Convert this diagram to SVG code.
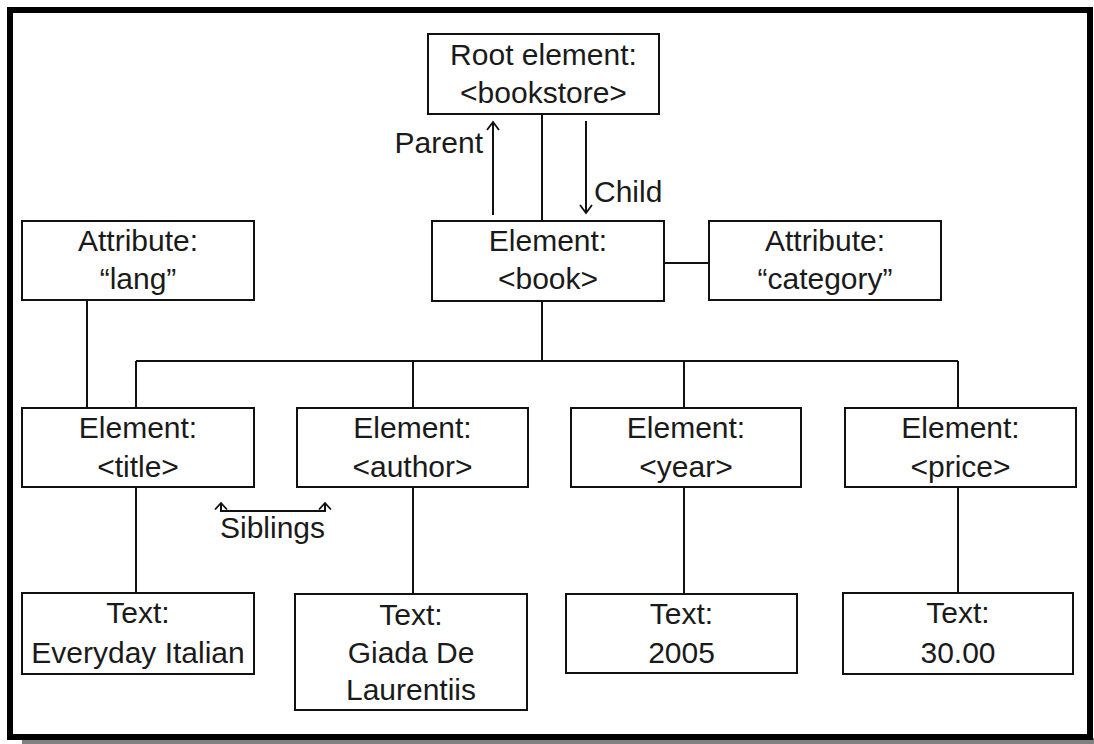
<svg xmlns="http://www.w3.org/2000/svg" width="1094" height="744" viewBox="0 0 1094 744">
  <style>
    .box { fill: #ffffff; stroke: #111111; stroke-width: 2; }
    .line { fill: none; stroke: #111111; stroke-width: 2; }
    .head { fill: none; stroke: #111111; stroke-width: 1.8; stroke-linejoin: miter; }
    text { font-family: "Liberation Sans", Arial, sans-serif; font-size: 30px; fill: #1a1a1a; }
    .c { text-anchor: middle; }
  </style>

  <!-- page background, drop shadow and frame -->
  <rect x="0" y="0" width="1094" height="744" fill="#ffffff"/>
  <rect x="22" y="738" width="1072" height="6" fill="#808080"/>
  <rect x="10" y="10" width="1080" height="727" fill="#ffffff" stroke="#000000" stroke-width="6"/>

  <!-- connectors -->
  <g id="connectors">
    <path class="line" d="M542,114 V221"/>
    <path class="line" d="M664,263 H709"/>
    <path class="line" d="M542,301 V361"/>
    <path class="line" d="M136,361 H958"/>
    <path class="line" d="M136,361 V408 M413,361 V408 M684,361 V408 M958,361 V408"/>
    <path class="line" d="M87,300 V408"/>
    <path class="line" d="M136,487 V593 M413,487 V594 M684,487 V594 M958,487 V593"/>

    <!-- parent / child arrows -->
    <path class="line" d="M493,123 V215"/>
    <path class="head" d="M487,130 L493,122 L499,130"/>
    <path class="line" d="M586,121 V212"/>
    <path class="head" d="M580,205 L586,213 L592,205"/>

    <!-- siblings arrow -->
    <path class="line" d="M221,504 V511 H325 V504"/>
    <path class="head" d="M215,509.5 L221,503 L227,509.5"/>
    <path class="head" d="M319,509.5 L325,503 L331,509.5"/>
  </g>

  <g id="label-parent"><text x="483" y="153" text-anchor="end">Parent</text></g>
  <g id="label-child"><text x="594" y="202">Child</text></g>
  <g id="label-siblings"><text x="220" y="538">Siblings</text></g>

  <!-- nodes -->
  <g id="root">
    <rect class="box" x="428" y="34" width="231" height="80"/>
    <text class="c" x="543.5" y="65">Root element:</text>
    <text class="c" x="543.5" y="103">&lt;bookstore&gt;</text>
  </g>

  <g id="book">
    <rect class="box" x="432" y="221" width="232" height="80"/>
    <text class="c" x="548" y="251">Element:</text>
    <text class="c" x="548" y="289">&lt;book&gt;</text>
  </g>

  <g id="attr-category">
    <rect class="box" x="709" y="221" width="232" height="79"/>
    <text class="c" x="825" y="251">Attribute:</text>
    <text class="c" x="825" y="289">“category”</text>
  </g>

  <g id="attr-lang">
    <rect class="box" x="22" y="221" width="232" height="79"/>
    <text class="c" x="138" y="251">Attribute:</text>
    <text class="c" x="138" y="289">“lang”</text>
  </g>

  <g id="title">
    <rect class="box" x="22" y="408" width="232" height="79"/>
    <text class="c" x="138" y="438">Element:</text>
    <text class="c" x="138" y="477">&lt;title&gt;</text>
  </g>

  <g id="author">
    <rect class="box" x="297" y="408" width="231" height="79"/>
    <text class="c" x="412.5" y="438">Element:</text>
    <text class="c" x="412.5" y="477">&lt;author&gt;</text>
  </g>

  <g id="year">
    <rect class="box" x="571" y="408" width="230" height="79"/>
    <text class="c" x="686" y="438">Element:</text>
    <text class="c" x="686" y="477">&lt;year&gt;</text>
  </g>

  <g id="price">
    <rect class="box" x="845" y="408" width="231" height="79"/>
    <text class="c" x="960.5" y="438">Element:</text>
    <text class="c" x="960.5" y="477">&lt;price&gt;</text>
  </g>

  <g id="text-title">
    <rect class="box" x="22" y="593" width="232" height="81"/>
    <text class="c" x="138" y="623">Text:</text>
    <text class="c" x="138" y="663">Everyday Italian</text>
  </g>

  <g id="text-author">
    <rect class="box" x="295" y="594" width="232" height="116"/>
    <text class="c" x="411" y="625">Text:</text>
    <text class="c" x="411" y="663">Giada De</text>
    <text class="c" x="411" y="700">Laurentiis</text>
  </g>

  <g id="text-year">
    <rect class="box" x="566" y="594" width="231" height="79"/>
    <text class="c" x="681.5" y="624">Text:</text>
    <text class="c" x="681.5" y="663">2005</text>
  </g>

  <g id="text-price">
    <rect class="box" x="843" y="593" width="230" height="81"/>
    <text class="c" x="958" y="623">Text:</text>
    <text class="c" x="958" y="663">30.00</text>
  </g>
</svg>
